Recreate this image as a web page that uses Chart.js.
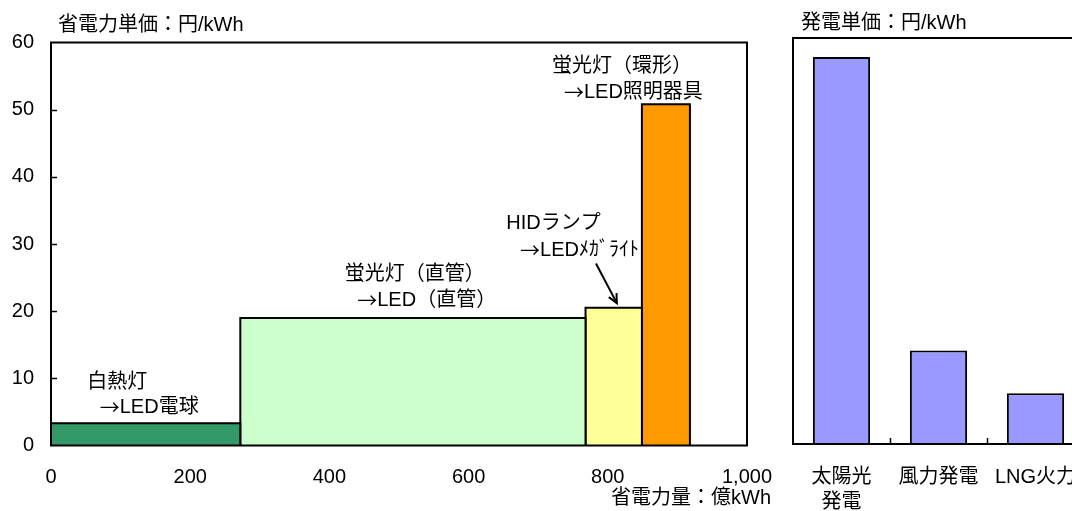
<!DOCTYPE html>
<html><head><meta charset="utf-8">
<script src="https://cdn.jsdelivr.net/npm/chart.js@4"></script>
<style>
html,body{margin:0;padding:0;background:#fff;overflow:hidden;width:1072px;height:511px;position:relative}
#c1{position:absolute;left:0;top:0}
#c2{position:absolute;left:770px;top:0}
</style></head><body>
<canvas id="c1" width="775" height="511"></canvas>
<canvas id="c2" width="330" height="511"></canvas>
<script>
// ---- data: energy-saving by lighting replacement ----
const lightingTypes = ['白熱灯→LED電球', '蛍光灯（直管）→LED（直管）', 'HIDランプ→LEDﾒｶﾞﾗｲﾄ', '蛍光灯（環形）→LED照明器具'];
const savingAmount = [272, 496, 81, 69];          // 省電力量 (億kWh) = bar widths
const savingUnitCost = [3.3, 19.0, 20.5, 50.8];   // 省電力単価 (円/kWh) = bar heights
const xTickValues = [0, 200, 400, 600, 800, 1000];
const yTickValues = [0, 10, 20, 30, 40, 50, 60];

// ---- data: generation cost ----
const genCategories = [['太陽光', '発電'], '風力発電', 'LNG火力'];
const genUnitCost = [57.2, 13.8, 7.5];

// ---- styles ----
const barColors = ['#339966', '#CCFFCC', '#FFFF99', '#FF9900'];
const genColor = '#9999FF';
const FONT = '"Liberation Sans", "Noto Sans CJK JP", sans-serif';
const CJK = '"Noto Sans CJK JP", sans-serif';
Chart.defaults.font.family = FONT;
Chart.defaults.font.size = 20;
Chart.defaults.color = '#000';

// annotation labels (data coordinates: left x, middle y)
const labelLines = [
  ['白熱灯', 52, 9.4], ['→LED電球', 70, 5.6],
  ['蛍光灯（直管）', 422, 25.5], ['→LED（直管）', 440, 21.6],
  ['HIDランプ', 654, 33.0], ['→LEDﾒｶﾞﾗｲﾄ', 674, 29.0],
  ['蛍光灯（環形）', 720, 56.5], ['→LED照明器具', 737, 52.5]
];
const arrowFromTo = [783, 27.1, 813, 21.2];

// build rectangles from cumulative widths
let acc = 0;
const rectDatasets = savingAmount.map((w, i) => {
  const x0 = acc, x1 = acc + w; acc = x1;
  const h = savingUnitCost[i];
  return {
    label: lightingTypes[i],
    data: [{x: x0, y: 0}, {x: x0, y: h}, {x: x1, y: h}, {x: x1, y: 0}],
    backgroundColor: barColors[i], borderColor: '#000', borderWidth: 2,
    fill: 'origin', pointRadius: 0, tension: 0, showLine: true
  };
});

function drawMixed(ctx, text, px, py) {
  // the arrow glyph comes from the CJK font (full width), the rest from the default stack
  let cx = px;
  const parts = text.split(/(→)/).filter(s => s.length);
  parts.forEach(p => {
    ctx.font = '20px ' + (p === '→' ? CJK : FONT);
    ctx.fillText(p, cx, py);
    cx += ctx.measureText(p).width;
  });
}

const leftDeco = {
  id: 'leftDeco',
  afterDatasetsDraw(chart) {
    const {ctx, chartArea: a, scales: {x, y}} = chart;
    ctx.save();
    ctx.strokeStyle = '#000'; ctx.lineWidth = 2;
    ctx.strokeRect(a.left, a.top, a.right - a.left, a.bottom - a.top);
    ctx.lineWidth = 1.5;
    yTickValues.forEach(v => {
      if (v === y.min || v === y.max) return;
      const py = Math.round(y.getPixelForValue(v)) + 0.5;
      ctx.beginPath(); ctx.moveTo(a.left, py); ctx.lineTo(a.left + 6, py); ctx.stroke();
    });
    // labels
    ctx.fillStyle = '#000';
    ctx.textAlign = 'left'; ctx.textBaseline = 'middle';
    labelLines.forEach(([t, lx, ly]) => drawMixed(ctx, t, x.getPixelForValue(lx), y.getPixelForValue(ly)));
    // arrow
    const x0 = x.getPixelForValue(arrowFromTo[0]), y0 = y.getPixelForValue(arrowFromTo[1]);
    const x1 = x.getPixelForValue(arrowFromTo[2]), y1 = y.getPixelForValue(arrowFromTo[3]);
    ctx.lineWidth = 2;
    ctx.beginPath(); ctx.moveTo(x0, y0); ctx.lineTo(x1, y1); ctx.stroke();
    const ang = Math.atan2(y1 - y0, x1 - x0), L = 10;
    ctx.beginPath();
    ctx.moveTo(x1 - L * Math.cos(ang - 0.45), y1 - L * Math.sin(ang - 0.45));
    ctx.lineTo(x1, y1);
    ctx.lineTo(x1 - L * Math.cos(ang + 0.45), y1 - L * Math.sin(ang + 0.45));
    ctx.stroke();
    // titles
    ctx.font = '20px ' + FONT;
    ctx.fillText('省電力単価：円/kWh', 58, 25);
    ctx.textAlign = 'right';
    ctx.fillText('省電力量：億kWh', 771, 498);
    ctx.restore();
  }
};

new Chart(document.getElementById('c1'), {
  type: 'line',
  data: {datasets: rectDatasets},
  options: {
    responsive: false, animation: false,
    layout: {padding: {top: 42.5, right: 28, left: 0, bottom: 0}},
    plugins: {legend: {display: false}, tooltip: {enabled: false}},
    scales: {
      x: {
        type: 'linear', min: 0, max: 1000,
        afterBuildTicks: s => { s.ticks = xTickValues.map(v => ({value: v})); },
        ticks: {padding: 20, maxRotation: 0, autoSkip: false},
        grid: {display: false, drawTicks: false}, border: {display: false},
        afterFit: s => { s.height = 65.5; s.paddingLeft = 0; s.paddingRight = 0; }
      },
      y: {
        min: 0, max: 60,
        afterBuildTicks: s => { s.ticks = yTickValues.map(v => ({value: v})); },
        ticks: {padding: 17},
        grid: {display: false, drawTicks: false}, border: {display: false},
        afterFit: s => { s.width = 51; s.paddingTop = 0; s.paddingBottom = 0; }
      }
    }
  },
  plugins: [leftDeco]
});

const rightDeco = {
  id: 'rightDeco',
  afterDatasetsDraw(chart) {
    const {ctx, chartArea: a, scales: {x}} = chart;
    ctx.save();
    ctx.strokeStyle = '#000'; ctx.lineWidth = 2;
    ctx.strokeRect(a.left, a.top, a.right - a.left, a.bottom - a.top);
    ctx.lineWidth = 1.5;
    for (let i = 1; i < genCategories.length; i++) {
      const px = Math.round((x.getPixelForTick(i - 1) + x.getPixelForTick(i)) / 2) + 0.5;
      ctx.beginPath(); ctx.moveTo(px, a.bottom); ctx.lineTo(px, a.bottom - 6); ctx.stroke();
    }
    ctx.fillStyle = '#000'; ctx.font = '20px ' + FONT;
    ctx.textAlign = 'left'; ctx.textBaseline = 'middle';
    ctx.fillText('発電単価：円/kWh', 31, 23);
    ctx.restore();
  }
};

new Chart(document.getElementById('c2'), {
  type: 'bar',
  data: {
    labels: genCategories,
    datasets: [{data: genUnitCost, backgroundColor: genColor, borderColor: '#000', borderWidth: 2,
      barPercentage: 0.59, categoryPercentage: 1}]
  },
  options: {
    responsive: false, animation: false,
    layout: {padding: {left: 23, top: 38, right: 16, bottom: 0}},
    plugins: {legend: {display: false}, tooltip: {enabled: false}},
    scales: {
      x: {
        ticks: {padding: 21, maxRotation: 0, autoSkip: false, font: {lineHeight: 1.25}},
        grid: {display: false, drawTicks: false}, border: {display: false},
        afterFit: s => { s.height = 67; s.paddingLeft = 0; s.paddingRight = 0; }
      },
      y: {display: false, min: 0, max: 60}
    }
  },
  plugins: [rightDeco]
});
</script>
</body></html>
